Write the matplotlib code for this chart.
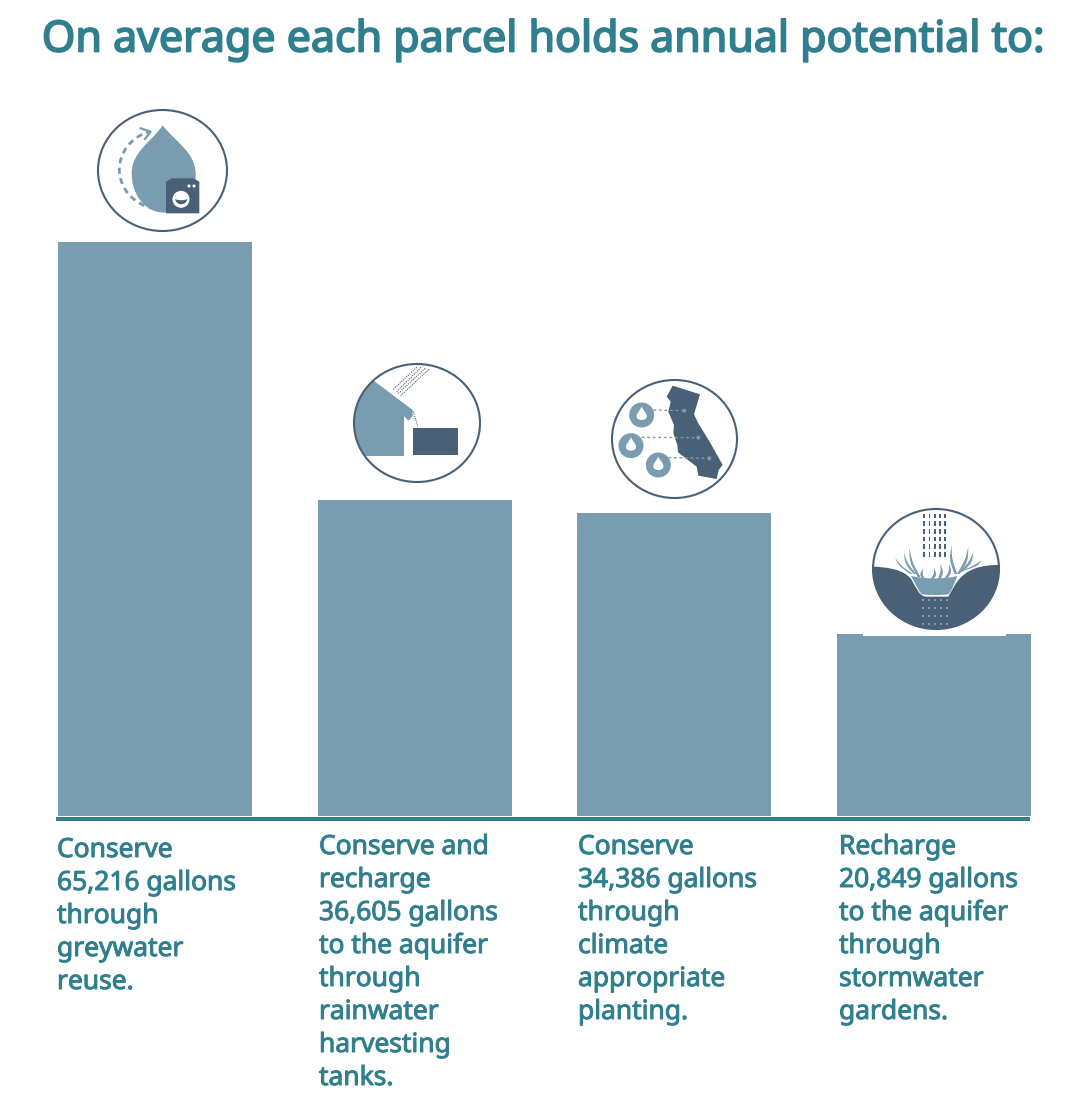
import matplotlib
matplotlib.use("Agg")
import matplotlib.pyplot as plt
import matplotlib.patheffects as pe
from matplotlib.patches import Ellipse, PathPatch, Polygon, Rectangle, Circle
from matplotlib.path import Path

# values (bar heights, the labels carry the printed numbers)
categories = ["greywater", "rainwater", "planting", "stormwater"]
bar_values = [65216, 35900, 34386, 20650]
title = "On average each parcel holds annual potential to:"
labels = [
    ["Conserve", "65,216 gallons", "through", "greywater", "reuse."],
    ["Conserve and", "recharge", "36,605 gallons", "to the aquifer", "through",
     "rainwater", "harvesting", "tanks."],
    ["Conserve", "34,386 gallons", "through", "climate", "appropriate", "planting."],
    ["Recharge", "20,849 gallons", "to the aquifer", "through", "stormwater", "gardens."],
]

BAR = "#7a9cb0"
DARK = "#4a6076"
TEAL = "#307f8e"

W, H = 1076, 1120
BASE_Y = 816
PX_PER_UNIT = 574 / 65216
PITCH = 259.5

plt.rcParams["font.family"] = ["Noto Sans", "DejaVu Sans"]
fig = plt.figure(figsize=(W / 100, H / 100), dpi=100)

# the bars, on their own axes with y=0 at the baseline
ax = fig.add_axes([0, 1 - BASE_Y / H, 1, BASE_Y / H])
ax.set_xlim(-155 / PITCH, (W - 155) / PITCH)
ax.set_ylim(0, BASE_Y / PX_PER_UNIT)
ax.bar(range(len(categories)), bar_values, width=194 / PITCH, color=BAR, linewidth=0)
ax.axis("off")

# overlay in picture pixels for text and icons
ov = fig.add_axes([0, 0, 1, 1], facecolor="none")
ov.set_xlim(0, W)
ov.set_ylim(H, 0)
ov.axis("off")

ov.add_patch(Rectangle((56, 816.5), 974, 4.2, color="#327f90", lw=0))

# only a regular weight is installed, a thin stroke gives the semibold look
t = ov.text(543, 40.5, title, ha="center", va="center", fontsize=30.9, color=TEAL)
t.set_path_effects([pe.withStroke(linewidth=1.3, foreground=TEAL)])

label_x = [57, 319, 578, 839]
label_y = [857, 854, 854, 854]
for col, lines in enumerate(labels):
    for i, line in enumerate(lines):
        t = ov.text(label_x[col], label_y[col] + i * 33, line, ha="left", va="baseline",
                    fontsize=19, color=TEAL)
        t.set_path_effects([pe.withStroke(linewidth=0.7, foreground=TEAL)])


def to_px(points, ox, oy):
    return [(ox + x / 3, oy + y / 3) for x, y in points]


def ring(cx, cy, rx, ry):
    e = Ellipse((cx, cy), 2 * rx, 2 * ry, fc="none", ec=DARK, lw=1.5, zorder=6)
    ov.add_patch(e)
    return Ellipse((cx, cy), 2 * rx, 2 * ry, transform=ov.transData)


def curve(points, ox, oy, **kw):
    pts = to_px(points, ox, oy)
    codes = [Path.MOVETO] + [Path.CURVE4] * (len(pts) - 1)
    patch = PathPatch(Path(pts, codes), **kw)
    ov.add_patch(patch)
    return patch


# icon 1: drop and washer
ox, oy = 80, 100
ring(162.5, 170.5, 64.5, 60.5)
curve([(248, 76), (285, 125), (345, 155), (347, 220), (350, 290), (300, 340), (250, 338),
       (190, 335), (155, 280), (155, 220), (155, 155), (215, 125), (248, 76)],
      ox, oy, fc=BAR, lw=0)
curve([(255, 328), (190, 332), (120, 285), (118, 210), (118, 160), (150, 112), (208, 95)],
      ox, oy, fc="none", ec=BAR, lw=2, ls=(0, (2.2, 1.6)))
ov.plot(*zip(*to_px([(182, 85), (212, 95), (195, 117)], ox, oy)), color=BAR, lw=1.6)
ov.add_patch(Polygon(to_px([(258, 245), (275, 235), (340, 235), (358, 245), (358, 340), (258, 340)], ox, oy),
                     fc=DARK, lw=0))
ov.add_patch(Circle((ox + 303 / 3, oy + 298 / 3), 8.5, fc="white", lw=0))
curve([(285, 297), (295, 302), (312, 302), (322, 297), (318, 318), (290, 318), (285, 297)],
      ox, oy, fc=DARK, lw=0)
for dx in (327, 342):
    ov.add_patch(Circle((ox + dx / 3, oy + 258 / 3), 1.6, fc="white", lw=0))

# icon 2: house and tank
ox, oy = 340, 355
clip = ring(417, 423, 63, 59)
house = Polygon(to_px([(105, 80), (218, 165), (218, 183), (205, 197), (192, 183), (192, 303),
                       (0, 303), (0, 0)], ox, oy), fc=BAR, lw=0)
ov.add_patch(house)
house.set_clip_path(clip)
ov.add_patch(Polygon(to_px([(218, 220), (355, 220), (355, 300), (218, 300)], ox, oy), fc=DARK, lw=0))
for a, b in [((160, 103), (232, 35)), ((170, 110), (245, 35)), ((175, 115), (258, 38)), ((182, 122), (270, 40))]:
    ov.plot(*zip(*to_px([a, b], ox, oy)), color=DARK, lw=0.8, ls=(0, (1, 1)))
ov.plot(*zip(*to_px([(220, 170), (226, 190), (233, 213)], ox, oy)), color=DARK, lw=0.8, ls=(0, (1, 1)))

# icon 3: California with three drops
ring(674.5, 439, 62.5, 59)
state = [(998, 92), (1080, 118), (1062, 178), (1075, 205), (1110, 262), (1148, 330), (1136, 345), (1130, 372),
         (1075, 362), (1070, 335), (1040, 312), (1014, 292), (1012, 270), (1000, 235), (1002, 210), (985, 170),
         (992, 140), (980, 125)]
ov.add_patch(Polygon(to_px(state, ox, oy), fc=DARK, lw=0))
for cx, cy in [(905, 180), (873, 272), (955, 330)]:
    ov.add_patch(Circle((ox + cx / 3, oy + cy / 3), 12.5, fc=BAR, lw=0))
    curve([(cx, cy - 25), (cx + 6, cy - 12), (cx + 17, cy - 4), (cx + 15, cy + 6), (cx + 13, cy + 18),
           (cx - 13, cy + 18), (cx - 15, cy + 6), (cx - 17, cy - 4), (cx - 6, cy - 12), (cx, cy - 25)],
          ox, oy, fc="white", lw=0)
for a, b in [((940, 165), (1033, 167)), ((905, 247), (1075, 248)), ((985, 308), (1108, 310))]:
    ov.plot(*zip(*to_px([a, b], ox, oy)), color=BAR, lw=1, ls=(0, (2, 2)))
    ov.add_patch(Circle((ox + b[0] / 3, oy + b[1] / 3), 2, fc=BAR, lw=0))

# icon 4: stormwater garden, white patch cuts into the bar top
ox, oy = 830, 500
ov.add_patch(Rectangle((863, 600), 143, 36, fc="white", lw=0))
clip = ring(936, 569, 63, 60)
ground = curve([(0, 198), (130, 198), (215, 195), (245, 240), (260, 265), (268, 290), (290, 290),
                (310, 290), (330, 290), (355, 290), (378, 250), (395, 195), (505, 195), (600, 195),
                (600, 500), (0, 500), (0, 198)], ox, oy, fc=DARK, lw=0)
ground.set_clip_path(clip)
curve([(243, 228), (290, 238), (340, 238), (382, 228), (370, 258), (365, 272), (355, 283),
       (330, 286), (300, 286), (275, 283), (265, 270), (255, 250), (243, 228)], ox, oy, fc=BAR, lw=0)
blades = [(245, 222, 195, 172), (255, 222, 222, 158), (268, 232, 238, 143), (284, 240, 280, 205),
          (302, 242, 312, 203), (325, 242, 330, 190), (345, 240, 358, 190), (378, 222, 365, 135),
          (385, 222, 415, 140), (395, 215, 430, 155), (405, 210, 455, 180)]
for bx, by, tx, ty in blades:
    mx, my = (bx + tx) / 2, (by + ty) / 2
    bend = 10 if tx > bx else -10
    curve([(bx - 4, by), (mx + bend - 5, my), (mx + bend - 4, my), (tx, ty),
           (mx + bend + 4, my + 2), (mx + bend + 5, my + 2), (bx + 4, by)], ox, oy, fc=BAR, lw=0)
for row in range(6):
    for col in range(5):
        ov.add_patch(Rectangle((ox + (283 + col * 15.5) / 3 - 0.9, oy + (48 + row * 23) / 3 - 2.4), 1.8, 4.8,
                               fc=DARK, lw=0))
for row in range(4):
    for col in range(5):
        ov.add_patch(Rectangle((ox + (280 + col * 18) / 3 - 1, oy + (300 + row * 24) / 3 - 1.3), 2, 2.6,
                               fc=BAR, lw=0))

fig.savefig("out.png", dpi=100)
